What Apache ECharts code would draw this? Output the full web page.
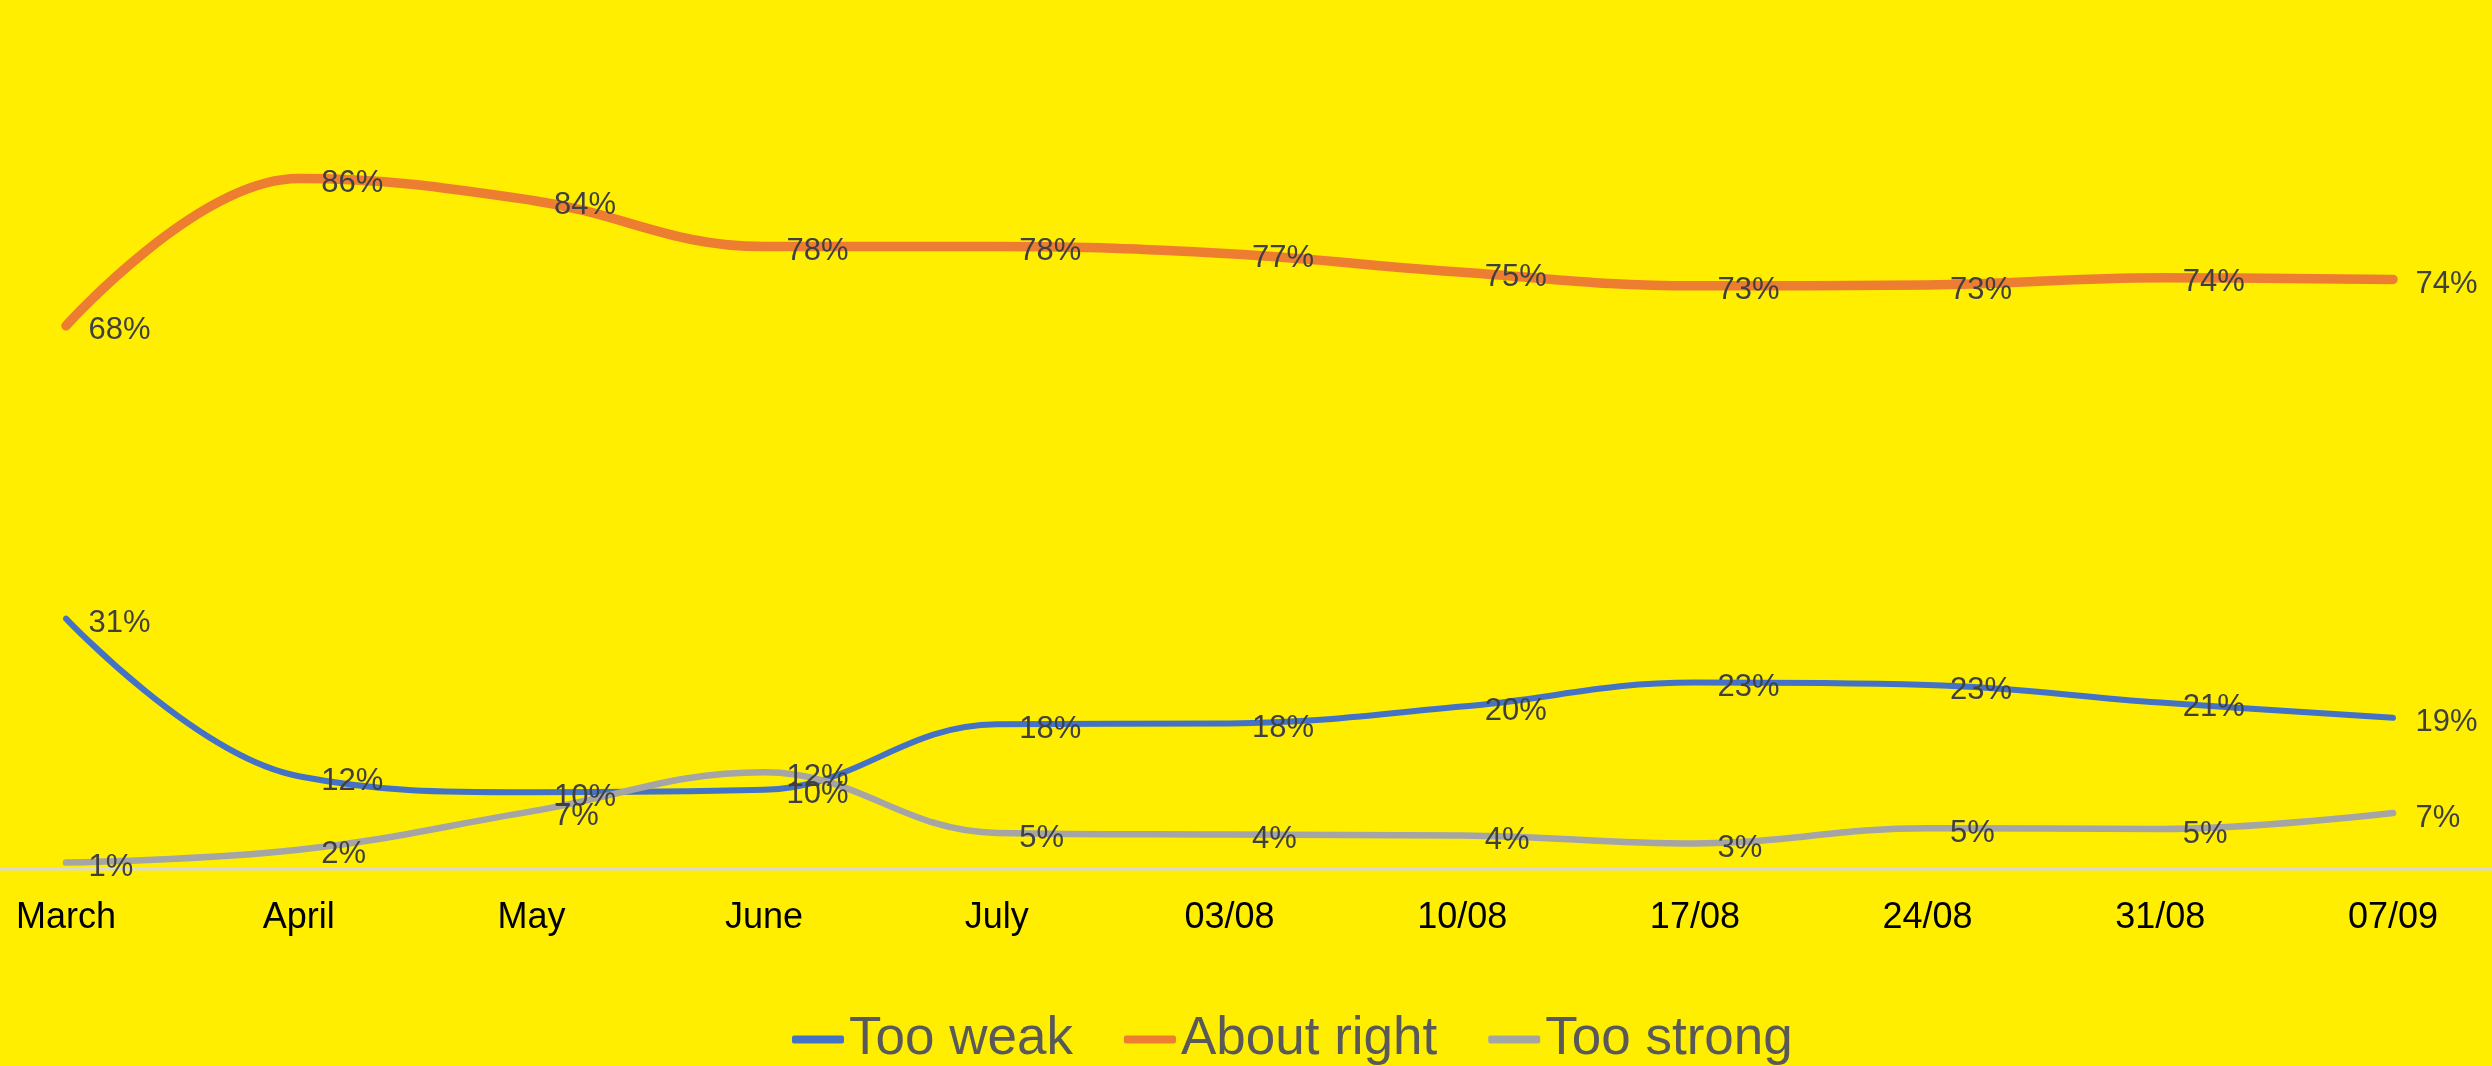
<!DOCTYPE html>
<html>
<head>
<meta charset="utf-8">
<script src="https://cdn.jsdelivr.net/npm/echarts@6/dist/echarts.min.js"></script>
<style>
html,body{margin:0;padding:0;background:#FFEE00;}
#c{width:2492px;height:1066px;}
</style>
</head>
<body>
<div id="c"></div>
<script>
const categories = ['March','April','May','June','July','03/08','10/08','17/08','24/08','31/08','07/09'];
const tooWeak    = [31.3, 11.6, 9.6, 9.9, 18.1, 18.2, 20.3, 23.3, 23.0, 20.8, 18.9];
const aboutRight = [67.9, 86.3, 83.6, 77.8, 77.8, 76.9, 74.6, 72.9, 73.0, 73.9, 73.7];
const tooStrong  = [0.8, 2.4, 7.2, 12.1, 4.5, 4.3, 4.2, 3.2, 5.1, 5.0, 7.0];
const seriesNames = ['Too weak','About right','Too strong'];
const colors = ['#4472C4','#ED7D31','#A5A5A5'];
const widths = [6, 9.5, 6.5];
const FONT = '"Liberation Sans", Arial, sans-serif';

const chart = echarts.init(document.getElementById('c'));
const datasets = [tooWeak, aboutRight, tooStrong];
const option = {
  backgroundColor: '#FFEE00',
  animation: false,
  textStyle: {fontFamily: FONT},
  grid: {left: 66, right: 99, top: 69, bottom: 197},
  xAxis: {
    type: 'category',
    data: categories,
    boundaryGap: false,
    axisLine: {show: false},
    axisTick: {show: false},
    splitLine: {show: false},
    axisLabel: {color: '#000000', fontSize: 36, fontFamily: FONT, margin: 31, interval: 0}
  },
  yAxis: {
    type: 'value', min: 0, max: 100,
    show: false, splitLine: {show: false}
  },
  legend: {
    left: 787, top: 1008,
    itemWidth: 52, itemHeight: 8, itemGap: 51,
    icon: 'roundRect',
    textStyle: {fontSize: 53, color: '#595959', fontFamily: FONT},
    data: seriesNames
  },
  series: datasets.map((d, i) => ({
    name: seriesNames[i],
    type: 'line',
    data: d,
    smooth: 0.4,
    symbol: 'circle',
    symbolSize: 1,
    showSymbol: true,
    color: colors[i],
    itemStyle: {color: colors[i]},
    lineStyle: {color: colors[i], width: widths[i], cap: 'round', join: 'round'},
    label: {
      show: true, position: 'right', distance: 22, offset: [0, 5],
      fontSize: 31, color: '#404040', fontFamily: FONT,
      formatter: p => Math.round(p.value) + '%'
    },
    emphasis: {disabled: true}
  }))
};
chart.setOption(option);
const y0 = chart.convertToPixel({yAxisIndex: 0}, 0);
chart.setOption({
  graphic: [{
    type: 'line', z: 0,
    shape: {x1: 0, y1: y0, x2: 2492, y2: y0},
    style: {stroke: '#D9D9D9', lineWidth: 3}
  }]
});
</script>
</body>
</html>
